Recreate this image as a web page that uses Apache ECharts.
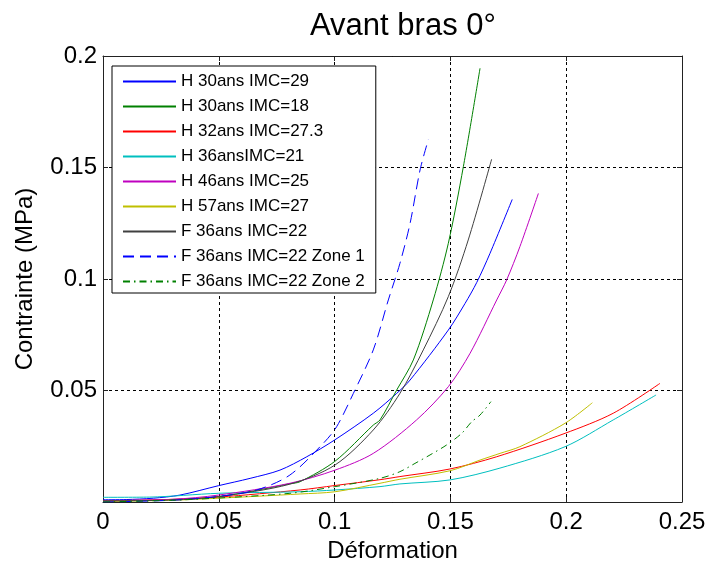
<!DOCTYPE html>
<html>
<head>
<meta charset="utf-8">
<script src="https://cdn.jsdelivr.net/npm/echarts@6/dist/echarts.min.js"></script>
<style>html,body{margin:0;padding:0;background:#fff}#c{width:709px;height:563px}</style>
</head>
<body>
<div id="c"></div>
<script>
const xTicks = [0, 0.05, 0.1, 0.15, 0.2, 0.25];
const yTicks = [0, 0.05, 0.1, 0.15, 0.2];
const names = ["H 30ans IMC=29","H 30ans IMC=18","H 32ans IMC=27.3","H 36ansIMC=21","H 46ans IMC=25","H 57ans IMC=27","F 36ans IMC=22","F 36ans IMC=22 Zone 1","F 36ans IMC=22 Zone 2"];

const x_h30_29 = [0,0.01,0.0217,0.0332,0.0498,0.0635,0.0764,0.088,0.100,0.1167,0.1268,0.1326,0.1491,0.1563,0.1614,0.1671,0.1767];
const y_h30_29 = [0.001,0.0011,0.0017,0.0031,0.0073,0.0106,0.0143,0.0203,0.0278,0.0398,0.0487,0.0547,0.0771,0.089,0.0985,0.1115,0.1357];

const x_h30_18 = [0,0.02,0.035,0.0498,0.0651,0.0807,0.0851,0.1002,0.1167,0.1196,0.1268,0.134,0.1426,0.1491,0.1556,0.1628];
const y_h30_18 = [0.0005,0.0007,0.0013,0.0024,0.005,0.0082,0.0091,0.0183,0.0345,0.0368,0.0502,0.0637,0.0906,0.116,0.1504,0.1945];

const x_h32 = [0,0.03,0.05,0.0851,0.1002,0.1196,0.1282,0.1498,0.170,0.1995,0.2203,0.2405];
const y_h32 = [0.0005,0.0012,0.0022,0.0054,0.0074,0.0100,0.0114,0.0148,0.0203,0.0308,0.0398,0.0532];

const x_h36 = [0,0.02,0.0498,0.0851,0.1002,0.1196,0.1282,0.1498,0.1714,0.1995,0.2203,0.2388];
const y_h36 = [0.0021,0.0022,0.0039,0.0046,0.0054,0.0069,0.0081,0.0099,0.0152,0.0248,0.0368,0.048];

const x_h46 = [0,0.03,0.0498,0.0807,0.1002,0.1167,0.1354,0.1491,0.1585,0.170,0.1743,0.18,0.188];
const y_h46 = [0.0005,0.0012,0.0031,0.0084,0.0143,0.0218,0.0368,0.0517,0.0667,0.0906,0.0996,0.1145,0.1384];

const x_h57 = [0,0.03,0.0498,0.0851,0.1002,0.1196,0.1282,0.1498,0.1628,0.1714,0.180,0.1995,0.2113];
const y_h57 = [0.0003,0.0008,0.0017,0.0036,0.0046,0.0084,0.0102,0.014,0.0188,0.0218,0.0248,0.0353,0.0445];

const x_f36 = [0,0.03,0.0498,0.0807,0.1002,0.1167,0.1282,0.1383,0.1491,0.1577,0.1678];
const y_f36 = [0.0005,0.0009,0.0024,0.0080,0.0166,0.0323,0.0487,0.0682,0.0921,0.1175,0.1537];

const x_z1 = [0,0.03,0.05,0.0664,0.0807,0.0951,0.1009,0.1081,0.1167,0.1232,0.1282,0.1326,0.1369,0.1405];
const y_z1 = [0,0.0008,0.0025,0.0054,0.0121,0.0263,0.0338,0.0487,0.0682,0.0906,0.107,0.125,0.1489,0.1626];

const x_z2 = [0,0.03,0.05,0.0807,0.1002,0.1196,0.1282,0.1347,0.1412,0.1484,0.1549,0.1592,0.1628,0.1675];
const y_z2 = [0,0.0008,0.0018,0.0039,0.0069,0.0106,0.0136,0.0173,0.0211,0.0256,0.0308,0.036,0.039,0.045];

const xs = [x_h30_29,x_h30_18,x_h32,x_h36,x_h46,x_h57,x_f36,x_z1,x_z2];
const ys = [y_h30_29,y_h30_18,y_h32,y_h36,y_h46,y_h57,y_f36,y_z1,y_z2];
const colors = ['#0000ff','#008000','#ff0000','#00bfbf','#bf00bf','#bfbf00','#404040','#0000ff','#008000'];
const types = ['solid','solid','solid','solid','solid','solid','solid',[11,6],[7,4,1.5,4]];

const FONT = 'Liberation Sans, Arial, sans-serif';
const chart = echarts.init(document.getElementById('c'), null, {renderer:'canvas'});

const axisCommon = {
  type:'value', min:0,
  axisLine:{show:true, onZero:false, lineStyle:{color:'#222', width:1}},
  axisTick:{show:true, inside:true, length:5, lineStyle:{color:'#222'}},
};

const series = names.map((n,i)=>({
  name:n, type:'line', xAxisIndex:0, yAxisIndex:0,
  data: xs[i].map((v,j)=>[v, ys[i][j]]),
  symbol:'none', smooth:0.3, animation:false,
  lineStyle:{color:colors[i], width:1, type:types[i]},
  itemStyle:{color:colors[i]}
}));

chart.setOption({
  backgroundColor:'#fff',
  animation:false,
  title:{text:'Avant bras 0°', left:305, top:6, textStyle:{fontFamily:FONT, fontSize:31, fontWeight:'normal', color:'#000'}},
  grid:{left:103, top:56, right:27, bottom:61, containLabel:false, outerBoundsMode:'none'},
  legend:{
    orient:'vertical', left:112, top:66, padding:[7,11,3,10],
    backgroundColor:'#fff', borderColor:'#000', borderWidth:1, borderRadius:0,
    itemWidth:53, itemHeight:17, itemGap:8,
    itemStyle:{opacity:0},
    textStyle:{fontFamily:FONT, fontSize:17, color:'#000', lineHeight:17},
    data:names
  },
  xAxis:[
    Object.assign({}, axisCommon, {max:0.25, interval:0.05, position:'bottom',
      name:'Déformation', nameLocation:'middle', nameGap:36,
      nameTextStyle:{fontFamily:FONT, fontSize:24, color:'#000'},
      axisLabel:{show:true, fontFamily:FONT, fontSize:24, color:'#000', margin:8},
      splitLine:{show:true, lineStyle:{color:'#000', type:[3,3], width:1}}}),
    Object.assign({}, axisCommon, {max:0.25, interval:0.05, position:'top',
      axisLabel:{show:false}, splitLine:{show:false}})
  ],
  yAxis:[
    Object.assign({}, axisCommon, {max:0.2, interval:0.05, position:'left',
      name:'Contrainte (MPa)', nameLocation:'middle', nameGap:66,
      nameTextStyle:{fontFamily:FONT, fontSize:24, color:'#000'},
      axisLabel:{show:true, fontFamily:FONT, fontSize:24, color:'#000', margin:6,
        formatter:v=> v===0 ? '' : String(+v.toFixed(2))},
      splitLine:{show:true, lineStyle:{color:'#000', type:[3,3], width:1}}}),
    Object.assign({}, axisCommon, {max:0.2, interval:0.05, position:'right',
      axisLabel:{show:false}, splitLine:{show:false}})
  ],
  series: series
});
</script>
</body>
</html>
